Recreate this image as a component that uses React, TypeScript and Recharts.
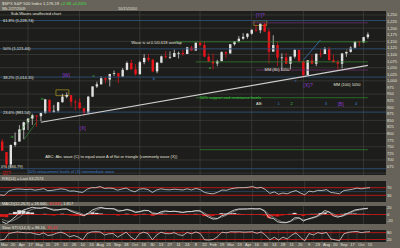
import React from "react";
import {
  ComposedChart,
  Bar,
  Line,
  XAxis,
  YAxis,
  CartesianGrid,
  ReferenceLine,
  ReferenceDot,
  ReferenceArea,
  Cell,
} from "recharts";

// weekly bars, S&P 500, Feb 2009 - Oct 2010
const weeks = [
  "2/27/09", "3/6/09", "3/13/09", "3/20/09", "3/27/09", "4/3/09", "4/9/09", "4/17/09", "4/24/09", "5/1/09",
  "5/8/09", "5/15/09", "5/22/09", "5/29/09", "6/5/09", "6/12/09", "6/19/09", "6/26/09", "7/2/09", "7/10/09",
  "7/17/09", "7/24/09", "7/31/09", "8/7/09", "8/14/09", "8/21/09", "8/28/09", "9/4/09", "9/11/09", "9/18/09",
  "9/25/09", "10/2/09", "10/9/09", "10/16/09", "10/23/09", "10/30/09", "11/6/09", "11/13/09", "11/20/09", "11/27/09",
  "12/4/09", "12/11/09", "12/18/09", "12/24/09", "12/31/09", "1/8/10", "1/15/10", "1/22/10", "1/29/10", "2/5/10",
  "2/12/10", "2/19/10", "2/26/10", "3/5/10", "3/12/10", "3/19/10", "3/26/10", "4/2/10", "4/9/10", "4/16/10",
  "4/23/10", "4/30/10", "5/7/10", "5/14/10", "5/21/10", "5/28/10", "6/4/10", "6/11/10", "6/18/10", "6/25/10",
  "7/2/10", "7/9/10", "7/16/10", "7/23/10", "7/30/10", "8/6/10", "8/13/10", "8/20/10", "8/27/10", "9/3/10",
  "9/10/10", "9/17/10", "9/24/10", "10/1/10", "10/8/10", "10/15/10",
];

const opens = [
  770, 730, 683, 757, 770, 814, 843, 857, 868, 866,
  878, 928, 882, 887, 919, 940, 946, 921, 918, 896,
  879, 940, 979, 987, 1010, 1005, 1026, 1029, 1016, 1042,
  1068, 1044, 1025, 1071, 1087, 1080, 1036, 1069, 1093, 1091,
  1091, 1106, 1106, 1102, 1127, 1115, 1145, 1136, 1092, 1074,
  1066, 1075, 1109, 1104, 1139, 1150, 1160, 1167, 1179, 1194,
  1192, 1217, 1187, 1111, 1136, 1088, 1089, 1065, 1092, 1117,
  1076, 1022, 1078, 1065, 1103, 1102, 1122, 1079, 1071, 1065,
  1104, 1110, 1126, 1149, 1146, 1166,
];
const highs = [
  780, 730, 758, 804, 832, 845, 857, 875, 871, 880,
  930, 930, 909, 920, 951, 956, 946, 930, 934, 896,
  943, 979, 997, 1018, 1014, 1027, 1039, 1030, 1049, 1074,
  1080, 1064, 1076, 1101, 1101, 1084, 1071, 1096, 1113, 1112,
  1119, 1111, 1117, 1129, 1133, 1145, 1150, 1150, 1104, 1104,
  1080, 1112, 1112, 1139, 1150, 1170, 1181, 1181, 1194, 1214,
  1217, 1220, 1197, 1173, 1150, 1104, 1106, 1092, 1121, 1119,
  1076, 1078, 1099, 1103, 1120, 1128, 1129, 1100, 1080, 1105,
  1111, 1131, 1149, 1152, 1167, 1184,
];
const lows = [
  735, 667, 672, 750, 770, 780, 814, 833, 826, 847,
  875, 878, 879, 880, 918, 934, 903, 888, 895, 869,
  875, 940, 973, 986, 990, 979, 1019, 991, 1016, 1040,
  1041, 1020, 1025, 1063, 1072, 1033, 1029, 1067, 1085, 1083,
  1091, 1085, 1095, 1102, 1115, 1115, 1131, 1090, 1071, 1044,
  1056, 1074, 1086, 1104, 1134, 1145, 1156, 1160, 1175, 1186,
  1181, 1185, 1066, 1111, 1056, 1040, 1064, 1043, 1085, 1071,
  1011, 1022, 1063, 1056, 1089, 1102, 1076, 1069, 1040, 1047,
  1091, 1107, 1122, 1131, 1144, 1159,
];
const closes = [
  735, 683, 757, 768, 816, 843, 857, 870, 866, 878,
  930, 882, 887, 919, 940, 946, 921, 918, 896, 879,
  940, 979, 987, 1010, 1005, 1026, 1029, 1016, 1042, 1068,
  1044, 1025, 1071, 1087, 1080, 1036, 1069, 1093, 1091, 1091,
  1106, 1106, 1102, 1127, 1115, 1145, 1136, 1092, 1074, 1066,
  1075, 1109, 1104, 1139, 1150, 1160, 1167, 1179, 1194, 1192,
  1217, 1187, 1111, 1136, 1088, 1089, 1065, 1092, 1117, 1076,
  1022, 1078, 1065, 1103, 1102, 1122, 1079, 1071, 1065, 1104,
  1110, 1126, 1149, 1146, 1166, 1176,
];

const rsi = [
  32, 30, 52, 60, 63, 62, 60, 62, 57, 60,
  65, 54, 56, 60, 64, 61, 52, 53, 48, 45,
  62, 70, 70, 76, 66, 68, 66, 57, 63, 68,
  55, 48, 62, 65, 60, 45, 58, 64, 60, 59,
  62, 60, 58, 64, 58, 66, 60, 45, 40, 38,
  46, 58, 56, 64, 68, 70, 70, 72, 76, 68,
  72, 60, 40, 48, 36, 42, 38, 48, 55, 42,
  33, 52, 48, 56, 55, 60, 45, 42, 38, 55,
  58, 62, 68, 64, 68, 70,
];
const macd = [
  -22, -28, -18, -8, 5, 14, 18, 22, 20, 19,
  22, 17, 13, 14, 17, 17, 10, 5, 1, -4,
  4, 14, 19, 22, 18, 18, 17, 10, 12, 16,
  12, 6, 9, 13, 12, 2, 2, 9, 11, 9,
  10, 8, 6, 9, 9, 12, 11, 0, -8, -14,
  -13, -4, 0, 8, 14, 17, 17, 17, 18, 17,
  18, 10, -10, -12, -22, -25, -25, -20, -10, -10,
  -20, -14, -10, -6, 2, 12, 8, -4, -8, -4,
  2, 8, 14, 16, 18, 19,
];
const signal = [
  -15, -20, -21, -16, -8, 2, 10, 16, 19, 20,
  20, 19, 16, 15, 15, 16, 13, 9, 5, 0,
  1, 7, 14, 19, 19, 18, 18, 13, 12, 14,
  13, 9, 8, 11, 12, 6, 3, 6, 9, 9,
  10, 9, 7, 8, 9, 10, 11, 5, -3, -10,
  -12, -8, -3, 4, 10, 15, 16, 17, 17, 17,
  17, 13, 0, -8, -16, -22, -24, -22, -15, -11,
  -16, -15, -12, -8, -2, 6, 7, 2, -5, -6,
  -1, 5, 11, 14, 16, 18,
];
const hist = [
  -7, -8, 3, 8, 13, 12, 8, 6, 1, -1,
  2, -2, -3, -1, 2, 1, -3, -4, -4, -4,
  3, 7, 5, 3, -1, 0, -1, -3, 0, 2,
  -1, -3, 1, 2, 0, -4, -1, 3, 2, 0,
  0, -1, -1, 1, 0, 2, 0, -5, -5, -4,
  -1, 4, 3, 4, 4, 2, 1, 0, 1, 0,
  1, -3, -10, -4, -6, -3, -1, 2, 5, 1,
  -4, 1, 2, 2, 4, 6, 1, -4, -3, 2,
  3, 3, 3, 2, 2, 1,
];
const stoch = [
  15, 20, 72, 80, 86, 82, 78, 80, 70, 62,
  78, 55, 60, 75, 84, 70, 44, 55, 40, 17,
  72, 86, 88, 86, 60, 70, 72, 40, 62, 84,
  44, 17, 70, 84, 72, 17, 60, 84, 72, 70,
  80, 62, 55, 82, 70, 86, 72, 17, 15, 20,
  45, 84, 78, 88, 86, 88, 84, 86, 88, 74,
  86, 58, 17, 40, 15, 40, 25, 58, 78, 40,
  8, 72, 60, 80, 72, 82, 25, 17, 10, 70,
  82, 88, 90, 80, 86, 88,
];

const priceTicks = [
  675, 700, 725, 750, 775, 800, 825, 850, 875, 900, 925, 950, 975,
  1000, 1025, 1050, 1075, 1100, 1125, 1150, 1175, 1200, 1225, 1250,
];
const gridPrices = [650, 700, 750, 800, 850, 900, 950, 1000, 1050, 1100, 1150, 1200, 1250];
const fibLevels = [666.79, 881.54, 1014.35, 1121.44, 1228.74];
const fibLabels = ["0% (666.79)", "23.6% (881.54)", "38.2% (1,014.35)", "50% (1,121.44)", "61.8% (1,228.74)"];
const monthNames = ["2010", "Feb", "Mar", "Apr", "May", "Jun", "Jul", "Aug", "Sep", "Oct", "Nov", "Dec"];

const rows = weeks.map((week, i) => ({
  week,
  open: opens[i],
  high: highs[i],
  low: lows[i],
  close: closes[i],
  range: [lows[i], highs[i]],
  rsi: rsi[i],
  macd: macd[i],
  signal: signal[i],
  hist: hist[i],
  stoch: stoch[i],
}));
const gridWeeks = weeks.filter((_, i) => i % 2 === 0);
const dateTicks = weeks.filter((_, i) => i % 2 === 1);

const FRAME = "#67635a";
const PANEL = "#1d1d1b";
const GRID = "#4c4c48";
const TXT = "#e4e4de";
const RED = "#d81818";
const FONT = "'Liberation Sans', Arial, sans-serif";
const margin = { top: 0, right: 0, bottom: 0, left: 0 };
const pad = { left: 0, right: 16 };
const axisTick = { fill: TXT, fontSize: 4, fontFamily: FONT };

const Candle = (props: any) => {
  const { x, y, width, height, payload } = props;
  const { open, close, high, low } = payload;
  const top = Math.min(y, y + height);
  const h = Math.abs(height);
  const up = close >= open;
  const color = up ? "#e2e2e2" : "#e8141b";
  const py = (v: number) => top + ((high - v) / (high - low || 1)) * h;
  const cx = x + width / 2;
  const bTop = py(Math.max(open, close));
  const bBot = py(Math.min(open, close));
  return (
    <g>
      <line x1={cx} x2={cx} y1={top} y2={top + h} stroke={color} strokeWidth={0.7} />
      <rect x={x} y={bTop} width={width} height={Math.max(0.8, bBot - bTop)} fill={color} />
    </g>
  );
};

const note = (i: number, price: number, text: string, color: string, size = 4) => (
  <ReferenceDot
    key={text + i}
    x={weeks[i]}
    y={price}
    r={0}
    ifOverflow="visible"
    label={{ value: text, position: "right", offset: 0, fill: color, fontSize: size, fontFamily: FONT }}
  />
);

const seg = (i1: number, p1: number, i2: number, p2: number, color: string, w = 0.8) => (
  <ReferenceLine
    key={`${i1}-${p1}-${i2}-${color}`}
    segment={[{ x: weeks[i1], y: p1 }, { x: weeks[i2], y: p2 }]}
    stroke={color}
    strokeWidth={w}
    ifOverflow="visible"
  />
);

const dateLabel = (w: string) => {
  const [m, d] = w.split("/").map(Number);
  return d <= 7 ? monthNames[m - 1] : String(d);
};

export default function App() {
  return (
    <div
      style={{
        position: "fixed",
        left: 0,
        top: 0,
        width: 400,
        height: 248,
        background: FRAME,
        overflow: "hidden",
        fontFamily: FONT,
      }}
    >
      {/* price panel */}
      <div style={{ position: "absolute", top: 11, left: 0 }}>
        <ComposedChart width={400} height={164} data={rows} margin={margin}>
          <CartesianGrid fill={PANEL} stroke={GRID} strokeWidth={0.5} horizontalValues={gridPrices} verticalValues={gridWeeks} />
          <XAxis dataKey="week" hide padding={pad} />
          <YAxis
            orientation="right"
            width={14}
            domain={[643, 1265]}
            ticks={priceTicks}
            interval={0}
            tick={axisTick}
            tickFormatter={(v: number) => v.toLocaleString("en-US")}
            axisLine={false}
            tickLine={false}
            tickSize={0}
            tickMargin={1}
            allowDataOverflow
          />
          {fibLevels.map((lvl, i) => (
            <ReferenceLine
              key={lvl}
              y={lvl}
              stroke="#2f5078"
              strokeWidth={0.9}
              label={{
                value: fibLabels[i],
                position: i === 0 ? "insideBottomLeft" : "insideLeft",
                offset: i === 0 ? 1 : 3,
                fill: TXT,
                fontSize: 4,
                fontFamily: FONT,
              }}
            />
          ))}
          {seg(40, 1148, 85, 1148, "#2f7d2f")}
          {seg(45, 1072, 85, 1072, "#2f7d2f")}
          {seg(45, 936, 85, 936, "#2f7d2f")}
          {seg(46, 739, 85, 739, "#2f7d2f")}
          {seg(58, 1220, 85, 1220, "#6b2d6b")}
          {seg(59, 1041, 85, 1041, "#6b2d6b")}
          {seg(9, 843, 85, 1059, "#cfcfcf", 1.2)}
          {seg(4, 803, 7, 871, "#3c9a3c", 0.6)}
          {seg(5, 776, 8, 844, "#3c9a3c", 0.6)}
          {seg(70, 1079, 74, 1155, "#3b7fd0", 0.7)}
          <ReferenceArea x1={weeks[13]} x2={weeks[15]} y1={944} y2={966} stroke="#c8b020" strokeWidth={0.6} fill="none" />
          <ReferenceArea x1={weeks[59]} x2={weeks[61]} y1={1210} y2={1228} stroke="#c8b020" strokeWidth={0.6} fill="none" />
          <Bar dataKey="range" barSize={2.4} shape={(p: any) => <Candle {...p} />} isAnimationActive={false} />
          {note(2, 1254, "Sub-Waves unaffected chart", TXT)}
          {note(30, 1144, "Wave iv at 0.5/0.618 overlap", TXT)}
          {note(10, 711, "ABC:   Abc wave (C) to equal wave A of flat or triangle (commonly wave (X))", TXT)}
          {note(6, 655, "50% retracement levels of (X) intermediate wave", "#3b7fd0")}
          {note(0, 650, "[Z]?", RED, 5)}
          {note(46, 936, "50% support and resistance levels", "#3cc83c")}
          {note(61, 1041, "MM (80) 1050", TXT)}
          {note(77, 985, "MM (100) 1050", TXT)}
          {note(59, 912, "AB:", TXT)}
          {note(14, 1022, "[W]", "#8a3ad0", 5)}
          {note(18, 821, "[X]", "#8a3ad0", 5)}
          {note(59, 1250, "[Y]?", "#8a3ad0", 5)}
          {note(70, 985, "(X)?", "#8a3ad0", 5)}
          {note(78, 912, "[B]", "#8a3ad0", 5)}
          {note(2, 790, "iii", "#3cc83c")}
          {note(9, 934, "iv", "#3cc83c")}
          {note(21, 1020, "v", "#3cc83c")}
          {note(35, 1010, "b", "#3b7fd0")}
          {note(48, 1050, "a", "#3cc83c")}
          {note(68, 1000, "c", "#3b7fd0")}
          {note(64, 912, "1", "#3b7fd0")}
          {note(67, 912, "2", "#3cc83c")}
          {note(75, 912, "3", "#3b7fd0")}
          {note(82, 912, "4", "#3b7fd0")}
          {note(80, 1120, "i", "#c8b020")}
        </ComposedChart>
      </div>

      {/* RSI */}
      <div style={{ position: "absolute", top: 181, left: 0 }}>
        <ComposedChart width={400} height={21} data={rows} margin={margin}>
          <CartesianGrid fill={PANEL} stroke={GRID} strokeWidth={0.5} horizontal={false} verticalValues={gridWeeks} />
          <XAxis dataKey="week" hide padding={pad} />
          <YAxis orientation="right" width={14} domain={[-5, 105]} ticks={[30, 70]} interval={0} tick={axisTick} axisLine={false} tickLine={false} tickSize={0} tickMargin={1} />
          <ReferenceLine y={70} stroke={RED} strokeWidth={0.8} />
          <ReferenceLine y={50} stroke="#2f5078" strokeWidth={0.6} />
          <ReferenceLine y={30} stroke={RED} strokeWidth={0.8} />
          <Line dataKey="rsi" stroke="#d6d6d6" strokeWidth={0.8} dot={false} isAnimationActive={false} />
        </ComposedChart>
      </div>

      {/* MACD */}
      <div style={{ position: "absolute", top: 206, left: 0 }}>
        <ComposedChart width={400} height={18} data={rows} margin={margin} barCategoryGap={0}>
          <CartesianGrid fill={PANEL} stroke={GRID} strokeWidth={0.5} horizontal={false} verticalValues={gridWeeks} />
          <XAxis dataKey="week" hide padding={pad} />
          <YAxis orientation="right" width={14} domain={[-29, 26]} ticks={[-20, 0, 20]} interval={0} tick={axisTick} axisLine={false} tickLine={false} tickSize={0} tickMargin={1} />
          <Bar dataKey="hist" isAnimationActive={false}>
            {rows.map((r) => (
              <Cell key={r.week} fill={r.hist >= 0 ? "#dcdcdc" : "#e01818"} />
            ))}
          </Bar>
          <ReferenceLine y={0} stroke={RED} strokeWidth={0.8} />
          <Line dataKey="signal" stroke="#8c8c8c" strokeWidth={0.8} dot={false} isAnimationActive={false} />
          <Line dataKey="macd" stroke="#f2f2f2" strokeWidth={0.8} dot={false} isAnimationActive={false} />
        </ComposedChart>
      </div>

      {/* Slow stochastic + dates */}
      <div style={{ position: "absolute", top: 230, left: 0 }}>
        <ComposedChart width={400} height={18} data={rows} margin={margin}>
          <CartesianGrid fill={PANEL} stroke={GRID} strokeWidth={0.5} horizontal={false} verticalValues={gridWeeks} />
          <XAxis
            dataKey="week"
            padding={pad}
            height={6}
            ticks={dateTicks}
            interval={0}
            tick={axisTick}
            tickFormatter={dateLabel}
            axisLine={false}
            tickLine={false}
            tickSize={0}
            tickMargin={1}
          />
          <YAxis orientation="right" width={14} domain={[-2, 103]} ticks={[20, 80]} interval={0} tick={axisTick} axisLine={false} tickLine={false} tickSize={0} tickMargin={1} />
          <ReferenceLine y={80} stroke={RED} strokeWidth={0.8} />
          <ReferenceLine y={20} stroke={RED} strokeWidth={0.8} />
          <Line dataKey="stoch" stroke="#d0d0d0" strokeWidth={0.8} dot={false} isAnimationActive={false} />
        </ComposedChart>
      </div>

      {/* header and panel captions */}
      <svg width={400} height={248} style={{ position: "absolute", left: 0, top: 0, pointerEvents: "none" }} fontFamily={FONT}>
        <text x={2} y={4.5} fontSize={4.2} fill={TXT}>
          $SPX S&amp;P 500 Index   1,176.19
          <tspan fill="#3ee03e">   +2.38   +0.20%</tspan>
        </text>
        <text x={2} y={9.5} fontSize={3.8} fill={TXT}>Wk 2/27/2009</text>
        <text x={118} y={9.5} fontSize={3.8} fill={TXT}>10/15/2010</text>
        <text x={2} y={179.5} fontSize={4} fill={TXT}>RSI(14) = Last 63.2574</text>
        <text x={2} y={205.2} fontSize={4} fill={TXT}>
          MACD(12,26,9) = 18.660, <tspan fill="#ff3030">16.843</tspan>, 1.817
        </text>
        <text x={2} y={228.7} fontSize={4} fill={TXT}>
          Slow STO(14,3) = 88.16, <tspan fill="#ff3030">85.43</tspan>
        </text>
      </svg>
    </div>
  );
}
